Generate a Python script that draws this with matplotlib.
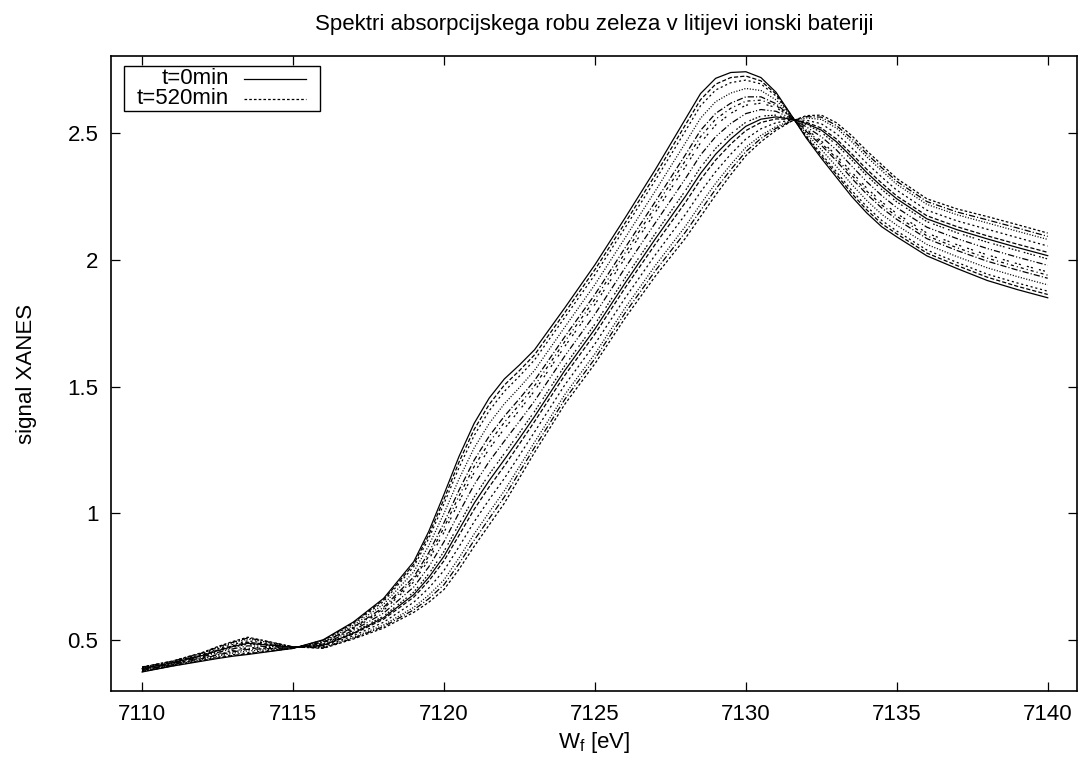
import matplotlib
matplotlib.use("Agg")
import matplotlib.pyplot as plt
from matplotlib.lines import Line2D
from matplotlib.patches import Rectangle

# photon energy grid [eV]
energy = [7110, 7111, 7112, 7112.5, 7113, 7113.5, 7114, 7114.5, 7115, 7116,
          7117, 7118, 7119, 7119.5, 7120, 7120.5, 7121, 7121.5, 7122, 7122.5,
          7123, 7124, 7125, 7126, 7127, 7128, 7128.5, 7129, 7129.5, 7130,
          7130.5, 7131, 7131.5, 7132, 7132.5, 7133, 7133.5, 7134, 7134.5, 7135,
          7136, 7137, 7138, 7139, 7140]

# XANES spectra, in order of measurement (first = t=0min, last = t=520min)
scan01 = [.375, .398, .418, .428, .437, .444, .452, .460, .468, .502, .572, .665, .810, .930, 1.075, 1.225, 1.355, 1.455, 1.530, 1.585,
          1.645, 1.810, 1.980, 2.165, 2.355, 2.555, 2.655, 2.715, 2.738, 2.741, 2.718, 2.660, 2.571, 2.480, 2.400, 2.325, 2.250, 2.185, 2.130, 2.090,
          2.015, 1.965, 1.918, 1.882, 1.850]
scan02 = [.376, .399, .420, .430, .440, .447, .454, .461, .468, .500, .569, .659, .800, .916, 1.056, 1.203, 1.331, 1.430, 1.506, 1.563,
          1.625, 1.791, 1.961, 2.145, 2.334, 2.532, 2.631, 2.692, 2.718, 2.724, 2.705, 2.653, 2.570, 2.484, 2.409, 2.336, 2.262, 2.197, 2.142, 2.102,
          2.026, 1.977, 1.931, 1.895, 1.863]
scan03 = [.377, .400, .421, .433, .443, .451, .457, .463, .469, .499, .565, .653, .790, .902, 1.038, 1.181, 1.307, 1.405, 1.481, 1.541,
          1.605, 1.772, 1.941, 2.126, 2.313, 2.508, 2.607, 2.669, 2.698, 2.708, 2.693, 2.645, 2.568, 2.489, 2.417, 2.347, 2.274, 2.210, 2.155, 2.113,
          2.038, 1.989, 1.943, 1.908, 1.876]
scan04 = [.379, .402, .425, .437, .449, .458, .462, .465, .469, .495, .559, .642, .770, .874, 1.000, 1.136, 1.258, 1.355, 1.432, 1.496,
          1.564, 1.734, 1.902, 2.086, 2.271, 2.461, 2.558, 2.623, 2.657, 2.675, 2.667, 2.630, 2.566, 2.498, 2.434, 2.368, 2.298, 2.234, 2.179, 2.136,
          2.060, 2.012, 1.968, 1.933, 1.901]
scan05 = [.381, .404, .428, .442, .454, .464, .466, .468, .470, .492, .552, .630, .750, .846, .963, 1.092, 1.210, 1.305, 1.383, 1.452,
          1.524, 1.696, 1.863, 2.047, 2.229, 2.414, 2.510, 2.577, 2.617, 2.642, 2.642, 2.615, 2.563, 2.506, 2.451, 2.390, 2.322, 2.259, 2.204, 2.159,
          2.083, 2.036, 1.994, 1.959, 1.927]
scan06 = [.382, .405, .430, .444, .457, .468, .469, .469, .470, .490, .549, .624, .740, .832, .944, 1.069, 1.185, 1.280, 1.359, 1.429,
          1.503, 1.677, 1.844, 2.027, 2.208, 2.391, 2.485, 2.554, 2.597, 2.625, 2.629, 2.608, 2.562, 2.511, 2.460, 2.400, 2.334, 2.271, 2.216, 2.171,
          2.094, 2.047, 2.006, 1.972, 1.939]
scan07 = [.383, .406, .432, .447, .460, .471, .471, .471, .470, .488, .545, .618, .730, .818, .925, 1.047, 1.161, 1.255, 1.334, 1.407,
          1.483, 1.658, 1.824, 2.007, 2.187, 2.367, 2.461, 2.531, 2.577, 2.609, 2.617, 2.600, 2.561, 2.515, 2.468, 2.411, 2.346, 2.283, 2.228, 2.182,
          2.105, 2.059, 2.019, 1.984, 1.952]
scan08 = [.385, .408, .435, .452, .466, .478, .476, .474, .471, .485, .539, .607, .710, .790, .888, 1.003, 1.113, 1.205, 1.285, 1.363,
          1.443, 1.620, 1.785, 1.968, 2.145, 2.320, 2.413, 2.485, 2.537, 2.576, 2.592, 2.585, 2.558, 2.524, 2.485, 2.433, 2.370, 2.308, 2.253, 2.205,
          2.128, 2.083, 2.044, 2.010, 1.978]
scan09 = [.387, .410, .438, .456, .472, .485, .481, .476, .472, .482, .532, .595, .690, .762, .850, .958, 1.064, 1.155, 1.236, 1.318,
          1.402, 1.582, 1.746, 1.928, 2.103, 2.273, 2.364, 2.439, 2.496, 2.542, 2.566, 2.570, 2.555, 2.533, 2.502, 2.454, 2.394, 2.332, 2.277, 2.228,
          2.150, 2.106, 2.069, 2.036, 2.003]
scan10 = [.388, .411, .440, .459, .475, .488, .483, .478, .472, .480, .528, .589, .680, .748, .831, .936, 1.040, 1.130, 1.212, 1.296,
          1.382, 1.563, 1.727, 1.908, 2.082, 2.250, 2.340, 2.416, 2.476, 2.526, 2.554, 2.563, 2.554, 2.537, 2.511, 2.465, 2.406, 2.344, 2.289, 2.240,
          2.161, 2.118, 2.082, 2.048, 2.016]
scan11 = [.389, .412, .442, .461, .478, .492, .486, .479, .472, .478, .525, .583, .670, .734, .813, .914, 1.016, 1.105, 1.187, 1.274,
          1.362, 1.544, 1.707, 1.889, 2.061, 2.226, 2.316, 2.393, 2.456, 2.509, 2.541, 2.555, 2.553, 2.542, 2.519, 2.476, 2.418, 2.357, 2.302, 2.251,
          2.173, 2.130, 2.094, 2.061, 2.029]
scan12 = [.391, .414, .445, .466, .483, .498, .490, .482, .473, .475, .518, .571, .650, .706, .775, .869, .967, 1.055, 1.138, 1.229,
          1.321, 1.506, 1.668, 1.849, 2.019, 2.179, 2.267, 2.347, 2.416, 2.476, 2.516, 2.540, 2.550, 2.550, 2.536, 2.497, 2.442, 2.381, 2.326, 2.274,
          2.195, 2.153, 2.120, 2.087, 2.054]
scan13 = [.393, .416, .449, .470, .489, .505, .495, .484, .473, .471, .512, .560, .630, .678, .738, .825, .919, 1.005, 1.089, 1.185,
          1.281, 1.468, 1.629, 1.810, 1.977, 2.132, 2.219, 2.301, 2.375, 2.443, 2.490, 2.525, 2.548, 2.559, 2.553, 2.519, 2.466, 2.406, 2.351, 2.297,
          2.218, 2.177, 2.145, 2.112, 2.080]
scan14 = [.394, .417, .450, .473, .492, .509, .498, .486, .474, .470, .508, .554, .620, .664, .719, .802, .894, .980, 1.065, 1.163,
          1.260, 1.449, 1.610, 1.790, 1.956, 2.109, 2.194, 2.278, 2.355, 2.426, 2.478, 2.518, 2.546, 2.564, 2.562, 2.529, 2.478, 2.418, 2.363, 2.309,
          2.229, 2.188, 2.157, 2.125, 2.092]
scan15 = [.395, .418, .452, .475, .495, .512, .500, .487, .474, .468, .505, .548, .610, .650, .700, .780, .870, .955, 1.040, 1.140,
          1.240, 1.430, 1.590, 1.770, 1.935, 2.085, 2.170, 2.255, 2.335, 2.410, 2.465, 2.510, 2.545, 2.568, 2.570, 2.540, 2.490, 2.430, 2.375, 2.320,
          2.240, 2.200, 2.170, 2.138, 2.105]

scans = [scan01, scan02, scan03, scan04, scan05, scan06, scan07, scan08,
         scan09, scan10, scan11, scan12, scan13, scan14, scan15]
legend_labels = ["t=0min", "t=520min"]
assert all(len(s) == len(energy) for s in scans)

W, H = 1079, 758
plt.rcParams["font.family"] = ["Liberation Sans", "DejaVu Sans"]
plt.rcParams["font.size"] = 16
plt.rcParams["lines.scale_dashes"] = False

# gnuplot-like dash cycle (points)
dashes = ["-", (0, (3.0, 1.5)), (0, (1.5, 2.0)), (0, (0.8, 1.2)),
          (0, (4.5, 1.5, 0.8, 1.5)), (0, (2.2, 2.2, 0.8, 2.2)),
          (0, (1.5, 1.5, 1.5, 4.5)), (0, (0.8, 1.5, 4.5, 1.5, 0.8, 1.5)),
          (0, (1.2, 1.2, 1.2, 1.2, 1.2, 1.2, 1.2, 3.0))]
last_style = (0, (1.9, 1.5))
lw = 0.9


def px(x, y):
    return x / W, 1 - y / H


fig = plt.figure(figsize=(W / 100, H / 100), dpi=100)
ax = fig.add_axes([111 / W, 1 - 691 / H, (1077 - 111) / W, (691 - 56) / H])

for i, s in enumerate(scans):
    ls = last_style if i == len(scans) - 1 else dashes[i % len(dashes)]
    ax.plot(energy, s, color="black", linewidth=lw, linestyle=ls)

ax.set_xlim(7108.97, 7140.97)
ax.set_ylim(0.3, 2.803)
ax.set_xticks([7110, 7115, 7120, 7125, 7130, 7135, 7140])
ax.set_yticks([0.5, 1, 1.5, 2, 2.5])
ax.set_yticklabels(["0.5", "1", "1.5", "2", "2.5"])
ax.tick_params(direction="in", length=6.5, width=0.9, top=True, right=True, pad=9)
for sp in ax.spines.values():
    sp.set_linewidth(1.2)

ax.set_title("Spektri absorpcijskega robu zeleza v litijevi ionski bateriji", pad=19, fontsize=16)
ax.set_xlabel(r"W$_\mathregular{f}$ [eV]", labelpad=4)
ax.set_ylabel("signal XANES", labelpad=22)

# gnuplot style key: box, right-aligned text, sample line
box = Rectangle(px(124, 110.7), 196 / W, 44.7 / H, transform=fig.transFigure,
                fill=False, edgecolor="black", linewidth=1.0)
fig.add_artist(box)
for lab, ls, yy in zip(legend_labels, ["-", last_style], [78.7, 99.0]):
    fig.text(*px(229, yy), lab, ha="right", va="center", fontsize=16)
    x0, y0 = px(244, yy)
    x1, _ = px(306, yy)
    fig.add_artist(Line2D([x0, x1], [y0, y0], transform=fig.transFigure,
                          color="black", linewidth=lw, linestyle=ls))

fig.savefig("out.png", dpi=100)
